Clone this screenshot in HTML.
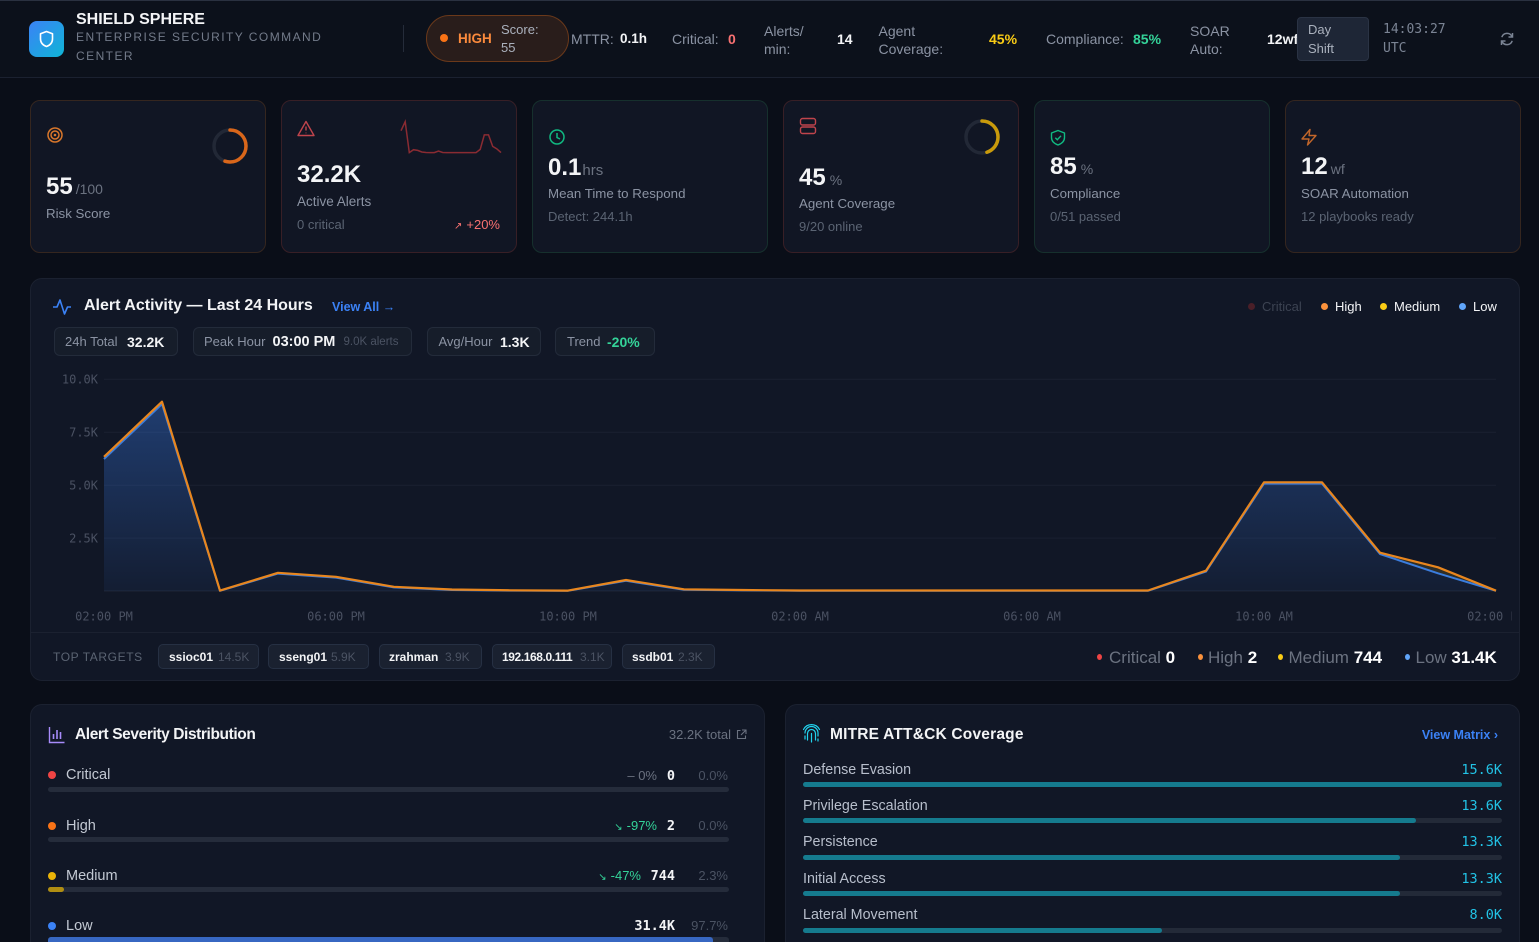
<!DOCTYPE html>
<html><head><meta charset="utf-8">
<style>
*{margin:0;padding:0;box-sizing:border-box}
html,body{width:1539px;height:942px;overflow:hidden;background:#0a0e18;font-family:"Liberation Sans","DejaVu Sans",sans-serif;color:#f3f4f6}
.a{position:absolute;white-space:nowrap;line-height:20px}
.m{font-family:"DejaVu Sans Mono","Liberation Mono",monospace}
.b{font-weight:bold}
.g{color:#8b93a3}
.d{color:#5b6473}
.card{position:absolute;top:100px;width:236px;height:153px;border-radius:10px;background:#111624;border:1px solid}
.panel{position:absolute;background:#111726;border:1px solid #1b2130;border-radius:12px}
.chip{position:absolute;background:#161d2a;border:1px solid #232b3a;border-radius:6px}
.tchip{position:absolute;top:644px;height:25px;background:#1a2130;border:1px solid #263043;border-radius:5px}
.bar{position:absolute;height:5px;border-radius:3px}
</style></head><body>

<!-- HEADER -->
<div style="position:absolute;left:0;top:0;width:1539px;height:78px;background:#0c111b;border-top:1px solid #2a3140;border-bottom:1px solid #1b2130"></div>
<div style="position:absolute;left:29px;top:21px;width:35px;height:36px;border-radius:8px;background:linear-gradient(135deg,#3b82f6,#0fb5d6)"></div>
<svg style="position:absolute;left:0;top:0" width="100" height="78"><path d="M46.5 31.5 L52.5 33.8 V39 C52.5 42.6 50 45.2 46.5 46.5 C43 45.2 40.5 42.6 40.5 39 V33.8 Z" fill="none" stroke="#fff" stroke-width="1.6" stroke-linejoin="round"/></svg>
<div class="a b" style="left:76px;top:10px;font-size:16px">SHIELD SPHERE</div>
<div style="position:absolute;left:76px;top:27.5px;width:250px;font-size:12px;line-height:19px;letter-spacing:1.45px;color:#737b8a">ENTERPRISE SECURITY COMMAND CENTER</div>
<div style="position:absolute;left:403px;top:25px;width:1px;height:27px;background:#252c3a"></div>

<div style="position:absolute;left:426px;top:15px;width:143px;height:47px;border-radius:24px;background:#291d1b;border:1px solid #6b391a"></div>
<div style="position:absolute;left:440px;top:34px;width:8px;height:8px;border-radius:50%;background:#f97316"></div>
<div class="a b" style="left:458px;top:29px;font-size:13.5px;color:#fb8a3c">HIGH</div>
<div class="a" style="left:501px;top:20px;font-size:13px;color:#aab1bd">Score:</div>
<div class="a" style="left:501px;top:38px;font-size:13px;color:#aab1bd">55</div>

<div class="a g" style="left:571px;top:29px;font-size:14px">MTTR:</div>
<div class="a b" style="left:620px;top:29px;font-size:13.5px">0.1h</div>
<div class="a g" style="left:672px;top:29px;font-size:14px">Critical:</div>
<div class="a b" style="left:728px;top:29px;font-size:14px;color:#f87171">0</div>
<div class="a g" style="left:764px;top:21px;font-size:14px">Alerts/</div>
<div class="a g" style="left:764px;top:39px;font-size:14px">min:</div>
<div class="a b" style="left:837px;top:29px;font-size:14px">14</div>
<div class="a g" style="left:878.5px;top:21px;font-size:14px">Agent</div>
<div class="a g" style="left:878.5px;top:39px;font-size:14px">Coverage:</div>
<div class="a b" style="left:989px;top:29px;font-size:14px;color:#facc15">45%</div>
<div class="a g" style="left:1046px;top:29px;font-size:14px">Compliance:</div>
<div class="a b" style="left:1133px;top:29px;font-size:14px;color:#34d399">85%</div>
<div class="a g" style="left:1190px;top:21px;font-size:14px">SOAR</div>
<div class="a g" style="left:1190px;top:39px;font-size:14px">Auto:</div>
<div class="a b" style="left:1267px;top:29px;font-size:14px">12wf</div>
<div style="position:absolute;left:1297px;top:17px;width:72px;height:44px;background:#1e2636;border:1px solid #2a3344;border-radius:4px"></div>
<div class="a" style="left:1308px;top:20px;font-size:13px;color:#aab1bd">Day</div>
<div class="a" style="left:1308px;top:39px;font-size:13px;color:#aab1bd">Shift</div>
<div class="a m" style="left:1383px;top:20px;font-size:13px;color:#7b8494">14:03:27</div>
<div class="a m" style="left:1383px;top:39px;font-size:13px;color:#7b8494">UTC</div>
<svg style="position:absolute;left:1498px;top:30px" width="18" height="18" viewBox="0 0 18 18"><path d="M14 6.5 A5.5 5.5 0 0 0 3.8 7.2 M4 11.5 A5.5 5.5 0 0 0 14.2 10.8" fill="none" stroke="#7b8494" stroke-width="1.5"/><path d="M14.5 3 V7 H10.5 M3.5 15 V11 H7.5" fill="none" stroke="#7b8494" stroke-width="1.5"/></svg>

<!-- KPI CARDS -->
<div class="card" style="left:30px;border-color:#35261f"></div>
<div class="card" style="left:281px;border-color:#381f26"></div>
<div class="card" style="left:532px;border-color:#16302d"></div>
<div class="card" style="left:783px;border-color:#381f26"></div>
<div class="card" style="left:1034px;border-color:#16302d"></div>
<div class="card" style="left:1285px;border-color:#35261f"></div>

<svg style="position:absolute;left:0;top:0" width="1539" height="260">
  <circle cx="55" cy="135" r="7" fill="none" stroke="#d9772b" stroke-width="1.5"/>
  <circle cx="55" cy="135" r="4" fill="none" stroke="#d9772b" stroke-width="1.5"/>
  <circle cx="55" cy="135" r="1.3" fill="#d9772b"/>
  <circle cx="230" cy="146" r="16" fill="none" stroke="#222836" stroke-width="3.5"/>
  <circle cx="230" cy="146" r="16" fill="none" stroke="#d9661a" stroke-width="3.5" stroke-dasharray="55.3 100.53" stroke-linecap="round" transform="rotate(-90 230 146)"/>
  <path d="M306 121.5 L314 135.5 H298 Z" fill="none" stroke="#c0444c" stroke-width="1.4" stroke-linejoin="round"/>
  <path d="M306 126.5 V130.5 M306 132.6 V133.2" stroke="#c0444c" stroke-width="1.4"/>
  <polyline points="401,130.7 405.2,121.7 409.3,152.6 413.5,149.7 417.7,150.4 421.8,152 426,152.5 430.2,152.6 434.3,152.6 438.5,151 442.7,152.5 446.8,152.6 451,152.6 455.2,152.6 459.3,152.6 463.5,152.6 467.7,152.6 471.8,152.6 476,152.6 480.2,149.4 484.3,134.9 488.5,134.9 492.7,146.4 496.8,148.8 501,152.6" fill="none" stroke="#8a2b32" stroke-width="1.5"/>
  <circle cx="557" cy="137" r="7" fill="none" stroke="#10b981" stroke-width="1.5"/>
  <path d="M557 133 V137.5 L560 139" fill="none" stroke="#10b981" stroke-width="1.5"/>
  <rect x="800.5" y="118.5" width="15" height="6.5" rx="2" fill="none" stroke="#c0444c" stroke-width="1.4"/>
  <rect x="800.5" y="127" width="15" height="6.5" rx="2" fill="none" stroke="#c0444c" stroke-width="1.4"/>
  <circle cx="982" cy="137" r="16" fill="none" stroke="#222836" stroke-width="3.5"/>
  <circle cx="982" cy="137" r="16" fill="none" stroke="#c99a0b" stroke-width="3.5" stroke-dasharray="45.2 100.53" stroke-linecap="round" transform="rotate(-90 982 137)"/>
  <path d="M1058 130.5 L1064.5 133 V137.5 C1064.5 141.2 1061.8 143.6 1058 145 C1054.2 143.6 1051.5 141.2 1051.5 137.5 V133 Z" fill="none" stroke="#10b981" stroke-width="1.4" stroke-linejoin="round"/>
  <path d="M1055.3 137.8 L1057.3 139.7 L1061 135.8" fill="none" stroke="#10b981" stroke-width="1.4"/>
  <path d="M1310 129.5 L1302 139 H1309 L1307.5 145 L1316 135.5 H1309 Z" fill="none" stroke="#c2662a" stroke-width="1.4" stroke-linejoin="round"/>
</svg>

<div class="a b" style="left:46px;top:177px;font-size:24px">55<span style="font-size:14px;font-weight:normal;color:#6b7280;margin-left:3px">/100</span></div>
<div class="a g" style="left:46px;top:204px;font-size:13.3px">Risk Score</div>

<div class="a b" style="left:297px;top:165px;font-size:24px">32.2K</div>
<div class="a g" style="left:297px;top:192px;font-size:13.5px">Active Alerts</div>
<div class="a d" style="left:297px;top:215px;font-size:13px">0 critical</div>
<div class="a" style="right:1039px;top:215px;font-size:13px;color:#f87171"><span style="font-size:10px;margin-right:4px">↗</span>+20%</div>

<div class="a b" style="left:548px;top:158px;font-size:24px">0.1<span style="font-size:15px;font-weight:normal;color:#6b7280;margin-left:1px">hrs</span></div>
<div class="a g" style="left:548px;top:184px;font-size:13.3px">Mean Time to Respond</div>
<div class="a d" style="left:548px;top:207px;font-size:13px">Detect: 244.1h</div>

<div class="a b" style="left:799px;top:168px;font-size:24px">45<span style="font-size:14px;font-weight:normal;color:#6b7280;margin-left:4px">%</span></div>
<div class="a g" style="left:799px;top:194px;font-size:13.3px">Agent Coverage</div>
<div class="a d" style="left:799px;top:217px;font-size:13px">9/20 online</div>

<div class="a b" style="left:1050px;top:157px;font-size:24px">85<span style="font-size:14px;font-weight:normal;color:#6b7280;margin-left:4px">%</span></div>
<div class="a g" style="left:1050px;top:184px;font-size:13.3px">Compliance</div>
<div class="a d" style="left:1050px;top:207px;font-size:13px">0/51 passed</div>

<div class="a b" style="left:1301px;top:157px;font-size:24px">12<span style="font-size:14px;font-weight:normal;color:#6b7280;margin-left:3px">wf</span></div>
<div class="a g" style="left:1301px;top:184px;font-size:13.3px">SOAR Automation</div>
<div class="a d" style="left:1301px;top:207px;font-size:13px">12 playbooks ready</div>

<!-- CHART PANEL -->
<div class="panel" style="left:30px;top:278px;width:1490px;height:403px"></div>
<div style="position:absolute;left:31px;top:632px;width:1488px;height:1px;background:#1b2130"></div>
<svg style="position:absolute;left:0;top:0" width="100" height="330"><polyline points="53,307 57,307 60,300 64.5,314 67.5,307 71,307" fill="none" stroke="#3b82f6" stroke-width="1.6" stroke-linejoin="round"/></svg>
<div class="a b" style="left:84px;top:296px;font-size:16px">Alert Activity — Last 24 Hours</div>
<div class="a b" style="left:332px;top:297px;font-size:12.5px;color:#3b82f6">View All →</div>

<div style="position:absolute;left:1248px;top:303px;width:7px;height:7px;border-radius:50%;background:#4a1f28"></div>
<div class="a" style="left:1262px;top:296.5px;font-size:13px;color:#3c4352">Critical</div>
<div style="position:absolute;left:1321px;top:303px;width:7px;height:7px;border-radius:50%;background:#fb923c"></div>
<div class="a" style="left:1335px;top:296.5px;font-size:13px">High</div>
<div style="position:absolute;left:1380px;top:303px;width:7px;height:7px;border-radius:50%;background:#facc15"></div>
<div class="a" style="left:1394px;top:296.5px;font-size:13px">Medium</div>
<div style="position:absolute;left:1459px;top:303px;width:7px;height:7px;border-radius:50%;background:#60a5fa"></div>
<div class="a" style="left:1473px;top:296.5px;font-size:13px">Low</div>

<div class="chip" style="left:53.5px;top:327px;width:124px;height:29px"></div>
<div class="chip" style="left:192.5px;top:327px;width:219px;height:29px"></div>
<div class="chip" style="left:426.5px;top:327px;width:114px;height:29px"></div>
<div class="chip" style="left:554.5px;top:327px;width:100.5px;height:29px"></div>
<div class="a g" style="left:65px;top:331.5px;font-size:13px">24h Total</div>
<div class="a b" style="left:127px;top:331.5px;font-size:14px">32.2K</div>
<div class="a g" style="left:204px;top:331.5px;font-size:13px">Peak Hour</div>
<div class="a b" style="left:272.5px;top:331.5px;font-size:14.5px">03:00 PM</div>
<div class="a" style="left:343.5px;top:332px;font-size:11.5px;color:#4b5363">9.0K alerts</div>
<div class="a g" style="left:438.5px;top:331.5px;font-size:13px">Avg/Hour</div>
<div class="a b" style="left:500px;top:331.5px;font-size:14px">1.3K</div>
<div class="a g" style="left:567px;top:331.5px;font-size:13px">Trend</div>
<div class="a b" style="left:607px;top:331.5px;font-size:14px;color:#34d399">-20%</div>

<svg style="position:absolute;left:0;top:0" width="1512" height="640">
  <defs>
    <linearGradient id="gb" gradientUnits="userSpaceOnUse" x1="0" y1="400" x2="0" y2="591">
      <stop offset="0" stop-color="#3b82f6" stop-opacity="0.36"/>
      <stop offset="1" stop-color="#3b82f6" stop-opacity="0.06"/>
    </linearGradient>
  </defs>
  <g stroke="#1a2030" stroke-width="1">
    <line x1="104" y1="379.3" x2="1496" y2="379.3"/>
    <line x1="104" y1="432.2" x2="1496" y2="432.2"/>
    <line x1="104" y1="485.2" x2="1496" y2="485.2"/>
    <line x1="104" y1="538.1" x2="1496" y2="538.1"/>
  </g>
  <line x1="104" y1="591" x2="1496" y2="591" stroke="#1f2635" stroke-width="1"/>
  <g font-family="DejaVu Sans Mono, Liberation Mono, monospace" font-size="12" fill="#4a5162" text-anchor="end" dominant-baseline="middle">
    <text x="98" y="380">10.0K</text>
    <text x="98" y="433">7.5K</text>
    <text x="98" y="486">5.0K</text>
    <text x="98" y="539">2.5K</text>
  </g>
  <polygon points="104,591 104,459 162,404 220,590.8 278,573.6 336,577.6 394,587.4 452,590 510,590.6 568,590.8 626,580.8 684,589.8 742,590.4 800,590.8 858,590.8 916,590.8 974,590.8 1032,590.8 1090,590.8 1148,590.8 1206,571.6 1264,483.6 1322,483.6 1380,554 1438,573.3 1496,590.8 1496,591" fill="url(#gb)"/>
  <polygon points="1322,482.3 1380,552.7 1438,567.3 1496,590.7 1496,590.8 1438,573.3 1380,554 1322,483.6" fill="#b59a2a" fill-opacity="0.18"/>
  <polyline points="104,459 162,404 220,590.8 278,573.6 336,577.6 394,587.4 452,590 510,590.6 568,590.8 626,580.8 684,589.8 742,590.4 800,590.8 858,590.8 916,590.8 974,590.8 1032,590.8 1090,590.8 1148,590.8 1206,571.6 1264,483.6 1322,483.6 1380,554 1438,573.3 1496,590.8" fill="none" stroke="#3b7ddd" stroke-width="2" stroke-linejoin="round"/>
  <polyline points="104,456.8 162,401.7 220,590.6 278,572.8 336,576.8 394,586.8 452,589.5 510,590.3 568,590.6 626,580 684,589.3 742,590 800,590.5 858,590.5 916,590.5 974,590.5 1032,590.5 1090,590.5 1148,590.5 1206,570.7 1264,482.3 1322,482.3 1380,552.7 1438,567.3 1496,590.7" fill="none" stroke="#e8861e" stroke-width="2.2" stroke-linejoin="round"/>
  <g font-family="DejaVu Sans Mono, Liberation Mono, monospace" font-size="12" fill="#4a5162" text-anchor="middle" dominant-baseline="middle">
    <text x="104" y="617">02:00 PM</text>
    <text x="336" y="617">06:00 PM</text>
    <text x="568" y="617">10:00 PM</text>
    <text x="800" y="617">02:00 AM</text>
    <text x="1032" y="617">06:00 AM</text>
    <text x="1264" y="617">10:00 AM</text>
    <text x="1496" y="617">02:00 PM</text>
  </g>
</svg>

<div class="a" style="left:53px;top:647px;font-size:12px;letter-spacing:0.6px;color:#5b6473">TOP TARGETS</div>
<div class="tchip" style="left:158px;width:101px"></div>
<div class="tchip" style="left:268px;width:101px"></div>
<div class="tchip" style="left:379px;width:103px"></div>
<div class="tchip" style="left:492px;width:120px"></div>
<div class="tchip" style="left:622px;width:93px"></div>
<div class="a b" style="left:169px;top:647px;font-size:12px">ssioc01</div>
<div class="a" style="left:218px;top:647px;font-size:12px;color:#4b5363">14.5K</div>
<div class="a b" style="left:279px;top:647px;font-size:12px">sseng01</div>
<div class="a" style="left:331px;top:647px;font-size:12px;color:#4b5363">5.9K</div>
<div class="a b" style="left:389px;top:647px;font-size:12px">zrahman</div>
<div class="a" style="left:445px;top:647px;font-size:12px;color:#4b5363">3.9K</div>
<div class="a b" style="left:502px;top:647px;font-size:12px;letter-spacing:-0.4px">192.168.0.111</div>
<div class="a" style="left:580px;top:647px;font-size:12px;color:#4b5363">3.1K</div>
<div class="a b" style="left:632px;top:647px;font-size:12px">ssdb01</div>
<div class="a" style="left:678px;top:647px;font-size:12px;color:#4b5363">2.3K</div>

<div style="position:absolute;left:1097px;top:654px;width:5px;height:6px;border-radius:50%;background:#ef4444"></div>
<div class="a" style="left:1109px;top:647.5px;font-size:17px;color:#6b7280">Critical <b style="color:#fff">0</b></div>
<div style="position:absolute;left:1197.5px;top:654px;width:5px;height:6px;border-radius:50%;background:#fb923c"></div>
<div class="a" style="left:1208px;top:647.5px;font-size:17px;color:#6b7280">High <b style="color:#fff">2</b></div>
<div style="position:absolute;left:1278px;top:654px;width:5px;height:6px;border-radius:50%;background:#facc15"></div>
<div class="a" style="left:1288.5px;top:647.5px;font-size:17px;color:#6b7280">Medium <b style="color:#fff">744</b></div>
<div style="position:absolute;left:1404.5px;top:654px;width:5px;height:6px;border-radius:50%;background:#60a5fa"></div>
<div class="a" style="left:1415.5px;top:647.5px;font-size:17px;color:#6b7280">Low <b style="color:#fff">31.4K</b></div>

<!-- SEVERITY PANEL -->
<div class="panel" style="left:30px;top:704px;width:735px;height:238px;border-bottom:0;border-radius:12px 12px 0 0"></div>
<svg style="position:absolute;left:0;top:700px" width="80" height="50"><path d="M49.5 27 V42.5 H64.5" fill="none" stroke="#a78bfa" stroke-width="1.4"/><path d="M53.5 39 V34 M57 39 V30 M60.5 39 V32" stroke="#a78bfa" stroke-width="1.6"/></svg>
<div class="a b" style="left:75px;top:724.5px;font-size:15.5px;letter-spacing:-0.4px">Alert Severity Distribution</div>
<div class="a" style="right:808px;top:724.5px;font-size:13px;color:#6b7280">32.2K total</div>
<svg style="position:absolute;left:736px;top:729px" width="11" height="11"><path d="M4.5 1.5 H1.5 V9.5 H9.5 V6.5 M6 1 H10 V5 M10 1 L5 6" fill="none" stroke="#6b7280" stroke-width="1.1"/></svg>

<div style="position:absolute;left:48px;top:771px;width:8px;height:8px;border-radius:50%;background:#ef4444"></div>
<div class="a" style="left:66px;top:765px;font-size:14.5px;color:#c3c9d3">Critical</div>
<div class="a" style="right:882px;top:765.5px;font-size:13px;color:#6b7280">– 0%</div>
<div class="a m b" style="right:864px;top:765.5px;font-size:13.5px">0</div>
<div class="a" style="right:811px;top:765.5px;font-size:13px;color:#4b5363">0.0%</div>
<div class="bar" style="left:48px;top:787px;width:681px;background:#252c3b"></div>

<div style="position:absolute;left:48px;top:822px;width:8px;height:8px;border-radius:50%;background:#f97316"></div>
<div class="a" style="left:66px;top:816px;font-size:14.5px;color:#c3c9d3">High</div>
<div class="a" style="right:882px;top:816px;font-size:13px;color:#34d399"><span style="font-size:10px;margin-right:4px">↘</span>-97%</div>
<div class="a m b" style="right:864px;top:816px;font-size:13.5px">2</div>
<div class="a" style="right:811px;top:816px;font-size:13px;color:#4b5363">0.0%</div>
<div class="bar" style="left:48px;top:837px;width:681px;background:#252c3b"></div>

<div style="position:absolute;left:48px;top:872px;width:8px;height:8px;border-radius:50%;background:#eab308"></div>
<div class="a" style="left:66px;top:866px;font-size:14.5px;color:#c3c9d3">Medium</div>
<div class="a" style="right:898px;top:866px;font-size:13px;color:#34d399"><span style="font-size:10px;margin-right:4px">↘</span>-47%</div>
<div class="a m b" style="right:864px;top:866px;font-size:13.5px">744</div>
<div class="a" style="right:811px;top:866px;font-size:13px;color:#4b5363">2.3%</div>
<div class="bar" style="left:48px;top:887px;width:681px;background:#252c3b"></div>
<div class="bar" style="left:48px;top:887px;width:16px;background:#b08e12"></div>

<div style="position:absolute;left:48px;top:922px;width:8px;height:8px;border-radius:50%;background:#3b82f6"></div>
<div class="a" style="left:66px;top:916px;font-size:14.5px;color:#c3c9d3">Low</div>
<div class="a m b" style="right:864px;top:916px;font-size:13.5px">31.4K</div>
<div class="a" style="right:811px;top:916px;font-size:13px;color:#4b5363">97.7%</div>
<div class="bar" style="left:48px;top:937px;width:681px;height:5px;border-radius:3px 3px 0 0;background:#252c3b"></div>
<div class="bar" style="left:48px;top:937px;width:665px;height:5px;border-radius:3px 3px 0 0;background:#3767c2"></div>

<!-- MITRE PANEL -->
<div class="panel" style="left:785px;top:704px;width:735px;height:238px;border-bottom:0;border-radius:12px 12px 0 0"></div>
<svg style="position:absolute;left:800px;top:724px" width="24" height="22" viewBox="0 0 24 22">
  <g fill="none" stroke="#22d3ee" stroke-width="1.2" stroke-linecap="round">
    <path d="M5 9 A6.5 6.5 0 0 1 18 9 V12"/>
    <path d="M7.5 16 V9.5 A4 4 0 0 1 15.5 9.5 V16"/>
    <path d="M11.5 9.5 V18"/>
    <path d="M5 12 V15 M18 15 V17"/>
    <path d="M3.5 5.5 A9 9 0 0 1 19.5 5.5"/>
  </g>
</svg>
<div class="a b" style="left:830px;top:724.5px;font-size:15.5px;letter-spacing:0.2px">MITRE ATT&amp;CK Coverage</div>
<div class="a b" style="right:41px;top:725px;font-size:12.5px;color:#3b82f6">View Matrix ›</div>

<div class="a" style="left:803px;top:760px;font-size:14.3px;color:#b8bfcc">Defense Evasion</div>
<div class="a m" style="right:37px;top:760px;font-size:13.5px;color:#22c3e6">15.6K</div>
<div class="bar" style="left:803px;top:782px;width:699px;background:#232a38"></div>
<div class="bar" style="left:803px;top:782px;width:699px;background:#157b8e"></div>

<div class="a" style="left:803px;top:796px;font-size:14.3px;color:#b8bfcc">Privilege Escalation</div>
<div class="a m" style="right:37px;top:796px;font-size:13.5px;color:#22c3e6">13.6K</div>
<div class="bar" style="left:803px;top:818px;width:699px;background:#232a38"></div>
<div class="bar" style="left:803px;top:818px;width:613px;background:#157b8e"></div>

<div class="a" style="left:803px;top:832px;font-size:14.3px;color:#b8bfcc">Persistence</div>
<div class="a m" style="right:37px;top:832px;font-size:13.5px;color:#22c3e6">13.3K</div>
<div class="bar" style="left:803px;top:854.5px;width:699px;background:#232a38"></div>
<div class="bar" style="left:803px;top:854.5px;width:596.5px;background:#157b8e"></div>

<div class="a" style="left:803px;top:869px;font-size:14.3px;color:#b8bfcc">Initial Access</div>
<div class="a m" style="right:37px;top:869px;font-size:13.5px;color:#22c3e6">13.3K</div>
<div class="bar" style="left:803px;top:891px;width:699px;background:#232a38"></div>
<div class="bar" style="left:803px;top:891px;width:596.5px;background:#157b8e"></div>

<div class="a" style="left:803px;top:905px;font-size:14.3px;color:#b8bfcc">Lateral Movement</div>
<div class="a m" style="right:37px;top:905px;font-size:13.5px;color:#22c3e6">8.0K</div>
<div class="bar" style="left:803px;top:927.5px;width:699px;background:#232a38"></div>
<div class="bar" style="left:803px;top:927.5px;width:359px;background:#157b8e"></div>

</body></html>
